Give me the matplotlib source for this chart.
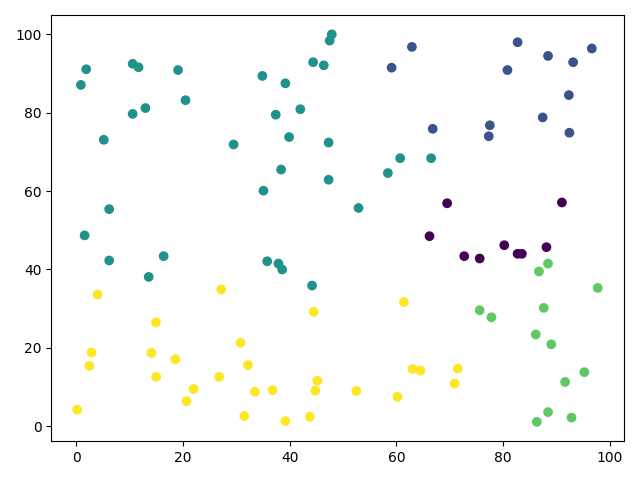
import numpy as np
import matplotlib
matplotlib.use("Agg")
import matplotlib.pyplot as plt

# points grouped by cluster label (0..4)
x0 = [66.2, 69.5, 72.7, 75.6, 80.2, 82.7, 83.5, 88.1, 91.0]
y0 = [48.5, 56.9, 43.4, 42.8, 46.2, 44.0, 44.0, 45.7, 57.1]

x1 = [59.1, 62.9, 66.8, 77.3, 77.5, 80.8, 82.7, 87.4, 88.4, 92.3, 92.4, 93.1, 96.6]
y1 = [91.5, 96.8, 75.9, 74.0, 76.8, 90.9, 98.0, 78.8, 94.5, 84.5, 74.9, 92.9, 96.4]

x2 = [0.9, 1.9, 1.6, 5.2, 6.2, 6.2, 10.6, 11.7, 10.6, 13.0, 13.6, 16.4, 19.1,
      20.5, 29.5, 34.9, 35.1, 35.8, 37.4, 37.9, 38.4, 38.6, 39.2, 39.9, 42.0,
      44.4, 44.2, 46.4, 47.3, 47.3, 47.5, 47.9, 52.9, 58.4, 60.7, 66.5]
y2 = [87.1, 91.1, 48.7, 73.1, 55.4, 42.3, 92.5, 91.6, 79.7, 81.2, 38.1, 43.4, 90.9,
      83.2, 71.9, 89.4, 60.1, 42.1, 79.5, 41.5, 65.5, 40.0, 87.5, 73.8, 80.9,
      92.9, 35.9, 92.1, 72.4, 62.9, 98.4, 100.0, 55.7, 64.6, 68.4, 68.4]

x3 = [86.7, 88.4, 97.7, 75.6, 77.8, 87.6, 86.1, 89.0, 95.2, 91.6, 88.4, 92.8, 86.3]
y3 = [39.5, 41.5, 35.3, 29.6, 27.8, 30.2, 23.4, 20.9, 13.8, 11.3, 3.6, 2.2, 1.1]

x4 = [0.2, 2.5, 2.9, 4.05, 14.1, 15.0, 14.95, 18.6, 20.7, 22.0, 26.8, 27.2, 30.8,
      31.5, 32.2, 33.5, 36.8, 39.2, 43.8, 44.5, 44.8, 45.2, 52.5, 60.2, 61.4,
      63.05, 64.5, 70.9, 71.5]
y4 = [4.2, 15.4, 18.8, 33.6, 18.7, 12.6, 26.5, 17.1, 6.4, 9.5, 12.6, 34.9, 21.3,
      2.6, 15.6, 8.8, 9.2, 1.3, 2.4, 29.2, 9.1, 11.6, 9.0, 7.5, 31.7,
      14.6, 14.2, 10.9, 14.7]

xs = [x0, x1, x2, x3, x4]
ys = [y0, y1, y2, y3, y4]
x = np.concatenate(xs)
y = np.concatenate(ys)
labels = np.concatenate([np.full(len(a), i) for i, a in enumerate(xs)])

fig, ax = plt.subplots(figsize=(6.4, 4.8), dpi=100)
ax.scatter(x, y, c=labels, cmap="viridis")
plt.tight_layout()
plt.savefig("out.png")
